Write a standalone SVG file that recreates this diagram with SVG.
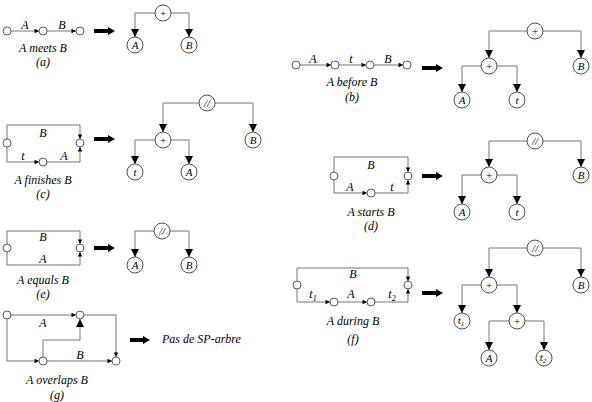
<svg xmlns="http://www.w3.org/2000/svg" width="592" height="402" viewBox="0 0 592 402">
<style>
.c{fill:#fff;stroke:#222;stroke-width:0.8}
.s{fill:#fff;stroke:#333;stroke-width:0.8}
.ln{fill:none;stroke:#777;stroke-width:1}
.t{font-family:'Liberation Serif',serif;font-style:italic;font-size:12px;fill:#000;text-anchor:middle}
.n{font-family:'Liberation Serif',serif;font-size:11px;fill:#000;text-anchor:middle}
.ni{font-family:'Liberation Serif',serif;font-style:italic;font-size:11px;fill:#000;text-anchor:middle}
.big{fill:#000}
</style>
<defs>
<marker id="ah" viewBox="0 0 10 10" refX="10" refY="5" markerUnits="userSpaceOnUse" markerWidth="9" markerHeight="8" orient="auto"><path d="M0,0 L10,5 L0,10 z" fill="#000"/></marker>
<marker id="as" viewBox="0 0 10 10" refX="10" refY="5" markerUnits="userSpaceOnUse" markerWidth="5" markerHeight="4.5" orient="auto"><path d="M0,0 L10,5 L0,10 z" fill="#000"/></marker>
</defs>

<g id="connectors">
<path class="ln" d="M11,31 H39" marker-end="url(#as)"/>
<path class="ln" d="M47,31 H76" marker-end="url(#as)"/>
<path class="ln" d="M155,13 H135 V37" marker-end="url(#ah)"/>
<path class="ln" d="M171,13 H189 V37" marker-end="url(#ah)"/>
<path class="ln" d="M300,65 H331" marker-end="url(#as)"/>
<path class="ln" d="M339,65 H366" marker-end="url(#as)"/>
<path class="ln" d="M374,65 H403" marker-end="url(#as)"/>
<path class="ln" d="M527,31 H489 V58" marker-end="url(#ah)"/>
<path class="ln" d="M543,31 H581 V58" marker-end="url(#ah)"/>
<path class="ln" d="M481,66 H462 V92" marker-end="url(#ah)"/>
<path class="ln" d="M497,66 H517 V92" marker-end="url(#ah)"/>
<path class="ln" d="M7,139 V125 H80 V139" marker-end="url(#as)"/>
<path class="ln" d="M7,147 V162 H39" marker-end="url(#as)"/>
<path class="ln" d="M47,162 H80 V147" marker-end="url(#as)"/>
<path class="ln" d="M199,103 H163 V132" marker-end="url(#ah)"/>
<path class="ln" d="M215,103 H253 V132" marker-end="url(#ah)"/>
<path class="ln" d="M155,140 H135 V164" marker-end="url(#ah)"/>
<path class="ln" d="M171,140 H189 V164" marker-end="url(#ah)"/>
<path class="ln" d="M334,172 V157 H408 V172" marker-end="url(#as)"/>
<path class="ln" d="M334,180 V193 H367" marker-end="url(#as)"/>
<path class="ln" d="M375,193 H408 V180" marker-end="url(#as)"/>
<path class="ln" d="M527,141 H489 V167" marker-end="url(#ah)"/>
<path class="ln" d="M543,141 H581 V167" marker-end="url(#ah)"/>
<path class="ln" d="M481,175 H462 V204" marker-end="url(#ah)"/>
<path class="ln" d="M497,175 H517 V204" marker-end="url(#ah)"/>
<path class="ln" d="M7,244 V231 H80 V244" marker-end="url(#as)"/>
<path class="ln" d="M7,252 V265 H80 V252" marker-end="url(#as)"/>
<path class="ln" d="M154,231 H135 V257" marker-end="url(#ah)"/>
<path class="ln" d="M170,231 H189 V257" marker-end="url(#ah)"/>
<path class="ln" d="M297,281 V268 H408 V281" marker-end="url(#as)"/>
<path class="ln" d="M297,289 V302 H330" marker-end="url(#as)"/>
<path class="ln" d="M338,302 H367" marker-end="url(#as)"/>
<path class="ln" d="M375,302 H408 V289" marker-end="url(#as)"/>
<path class="ln" d="M527,248 H489 V277" marker-end="url(#ah)"/>
<path class="ln" d="M543,248 H581 V277" marker-end="url(#ah)"/>
<path class="ln" d="M481,285 H462 V313" marker-end="url(#ah)"/>
<path class="ln" d="M497,285 H517 V313" marker-end="url(#ah)"/>
<path class="ln" d="M509,321 H489 V350" marker-end="url(#ah)"/>
<path class="ln" d="M525,321 H544 V350" marker-end="url(#ah)"/>
<path class="ln" d="M11,315 H76" marker-end="url(#as)"/>
<path class="ln" d="M7,319 V361 H39" marker-end="url(#as)"/>
<path class="ln" d="M43,357 V340 H80 V319" marker-end="url(#ah)"/>
<path class="ln" d="M47,361 H112" marker-end="url(#as)"/>
<path class="ln" d="M84,315 H116 V357" marker-end="url(#as)"/>
</g>

<g id="big-arrows">
<path class="big" d="M94,29 H108 V27 L115,31 L108,35 V33 H94 z"/>
<path class="big" d="M422,66 H436 V64 L443,68 L436,72 V70 H422 z"/>
<path class="big" d="M94,137 H108 V135 L115,139 L108,143 V141 H94 z"/>
<path class="big" d="M422,174 H436 V172 L443,176 L436,180 V178 H422 z"/>
<path class="big" d="M94,246 H108 V244 L115,248 L108,252 V250 H94 z"/>
<path class="big" d="M422,291 H436 V289 L443,293 L436,297 V295 H422 z"/>
<path class="big" d="M130,338 H143 V336 L150,340 L143,344 V342 H130 z"/>
</g>

<g font-family="'Liberation Serif', serif">
<g id="a-graph">
<circle class="s" cx="7" cy="31" r="4"/>
<circle class="s" cx="43" cy="31" r="4"/>
<circle class="s" cx="80" cy="31" r="4"/>
<text class="t" x="25" y="29">A</text>
<text class="t" x="62" y="29">B</text>
<text class="t" x="43" y="52">A meets B</text>
<text class="t" x="43" y="66">(a)</text>
</g>
<g id="a-root"><circle class="c" cx="163" cy="13" r="8"/><text class="n" x="163" y="17">+</text></g>
<g id="a-A"><circle class="c" cx="135" cy="45" r="8"/><text class="ni" x="135" y="49">A</text></g>
<g id="a-B"><circle class="c" cx="189" cy="45" r="8"/><text class="ni" x="189" y="49">B</text></g>

<g id="b-graph">
<circle class="s" cx="296" cy="65" r="4"/>
<circle class="s" cx="335" cy="65" r="4"/>
<circle class="s" cx="370" cy="65" r="4"/>
<circle class="s" cx="407" cy="65" r="4"/>
<text class="t" x="313" y="63">A</text>
<text class="t" x="351" y="63">t</text>
<text class="t" x="388" y="63">B</text>
<text class="t" x="352" y="86">A before B</text>
<text class="t" x="352" y="101">(b)</text>
</g>
<g id="b-root"><circle class="c" cx="535" cy="31" r="8"/><text class="n" x="535" y="35">+</text></g>
<g id="b-plus"><circle class="c" cx="489" cy="66" r="8"/><text class="n" x="489" y="70">+</text></g>
<g id="b-B"><circle class="c" cx="581" cy="66" r="8"/><text class="ni" x="581" y="70">B</text></g>
<g id="b-A"><circle class="c" cx="462" cy="100" r="8"/><text class="ni" x="462" y="104">A</text></g>
<g id="b-t"><circle class="c" cx="517" cy="100" r="8"/><text class="ni" x="517" y="104">t</text></g>

<g id="c-graph">
<circle class="s" cx="7" cy="143" r="4"/>
<circle class="s" cx="80" cy="143" r="4"/>
<circle class="s" cx="43" cy="162" r="4"/>
<text class="t" x="43" y="137">B</text>
<text class="t" x="23" y="160">t</text>
<text class="t" x="64" y="160">A</text>
<text class="t" x="43" y="184">A finishes B</text>
<text class="t" x="43" y="198">(c)</text>
</g>
<g id="c-root"><circle class="c" cx="207" cy="103" r="8"/><text class="ni" x="207" y="107">//</text></g>
<g id="c-plus"><circle class="c" cx="163" cy="140" r="8"/><text class="n" x="163" y="144">+</text></g>
<g id="c-B"><circle class="c" cx="253" cy="140" r="8"/><text class="ni" x="253" y="144">B</text></g>
<g id="c-t"><circle class="c" cx="135" cy="172" r="8"/><text class="ni" x="135" y="176">t</text></g>
<g id="c-A"><circle class="c" cx="189" cy="172" r="8"/><text class="ni" x="189" y="176">A</text></g>

<g id="d-graph">
<circle class="s" cx="334" cy="176" r="4"/>
<circle class="s" cx="408" cy="176" r="4"/>
<circle class="s" cx="371" cy="193" r="4"/>
<text class="t" x="371" y="169">B</text>
<text class="t" x="350" y="191">A</text>
<text class="t" x="392" y="191">t</text>
<text class="t" x="371" y="216">A starts B</text>
<text class="t" x="371" y="230">(d)</text>
</g>
<g id="d-root"><circle class="c" cx="535" cy="141" r="8"/><text class="ni" x="535" y="145">//</text></g>
<g id="d-plus"><circle class="c" cx="489" cy="175" r="8"/><text class="n" x="489" y="179">+</text></g>
<g id="d-B"><circle class="c" cx="581" cy="175" r="8"/><text class="ni" x="581" y="179">B</text></g>
<g id="d-A"><circle class="c" cx="462" cy="212" r="8"/><text class="ni" x="462" y="216">A</text></g>
<g id="d-t"><circle class="c" cx="517" cy="212" r="8"/><text class="ni" x="517" y="216">t</text></g>

<g id="e-graph">
<circle class="s" cx="7" cy="248" r="4"/>
<circle class="s" cx="80" cy="248" r="4"/>
<text class="t" x="43" y="241">B</text>
<text class="t" x="43" y="263">A</text>
<text class="t" x="43" y="284">A equals B</text>
<text class="t" x="43" y="298">(e)</text>
</g>
<g id="e-root"><circle class="c" cx="162" cy="231" r="8"/><text class="ni" x="162" y="235">//</text></g>
<g id="e-A"><circle class="c" cx="135" cy="265" r="8"/><text class="ni" x="135" y="269">A</text></g>
<g id="e-B"><circle class="c" cx="189" cy="265" r="8"/><text class="ni" x="189" y="269">B</text></g>

<g id="f-graph">
<circle class="s" cx="297" cy="285" r="4"/>
<circle class="s" cx="408" cy="285" r="4"/>
<circle class="s" cx="334" cy="302" r="4"/>
<circle class="s" cx="371" cy="302" r="4"/>
<text class="t" x="353" y="278">B</text>
<text class="t" x="313" y="298">t<tspan font-size="8" dy="3">1</tspan></text>
<text class="t" x="351" y="298">A</text>
<text class="t" x="392" y="298">t<tspan font-size="8" dy="3">2</tspan></text>
<text class="t" x="353" y="325">A during B</text>
<text class="t" x="353" y="343">(f)</text>
</g>
<g id="f-root"><circle class="c" cx="535" cy="248" r="8"/><text class="ni" x="535" y="252">//</text></g>
<g id="f-plus1"><circle class="c" cx="489" cy="285" r="8"/><text class="n" x="489" y="289">+</text></g>
<g id="f-B"><circle class="c" cx="581" cy="285" r="8"/><text class="ni" x="581" y="289">B</text></g>
<g id="f-t1"><circle class="c" cx="462" cy="321" r="8"/><text class="ni" x="461" y="324">t<tspan font-size="7" dy="2">1</tspan></text></g>
<g id="f-plus2"><circle class="c" cx="517" cy="321" r="8"/><text class="n" x="517" y="325">+</text></g>
<g id="f-A"><circle class="c" cx="489" cy="358" r="8"/><text class="ni" x="489" y="362">A</text></g>
<g id="f-t2"><circle class="c" cx="544" cy="358" r="8"/><text class="ni" x="543" y="361">t<tspan font-size="7" dy="2">2</tspan></text></g>

<g id="g-graph">
<circle class="s" cx="7" cy="315" r="4"/>
<circle class="s" cx="80" cy="315" r="4"/>
<circle class="s" cx="43" cy="361" r="4"/>
<circle class="s" cx="116" cy="361" r="4"/>
<text class="t" x="43" y="327">A</text>
<text class="t" x="80" y="359">B</text>
<text class="t" x="57" y="384">A overlaps B</text>
<text class="t" x="57" y="399">(g)</text>
</g>
<g id="g-result"><text class="t" x="162" y="343" text-anchor="start" style="text-anchor:start">Pas de SP-arbre</text></g>
</g>
</svg>
